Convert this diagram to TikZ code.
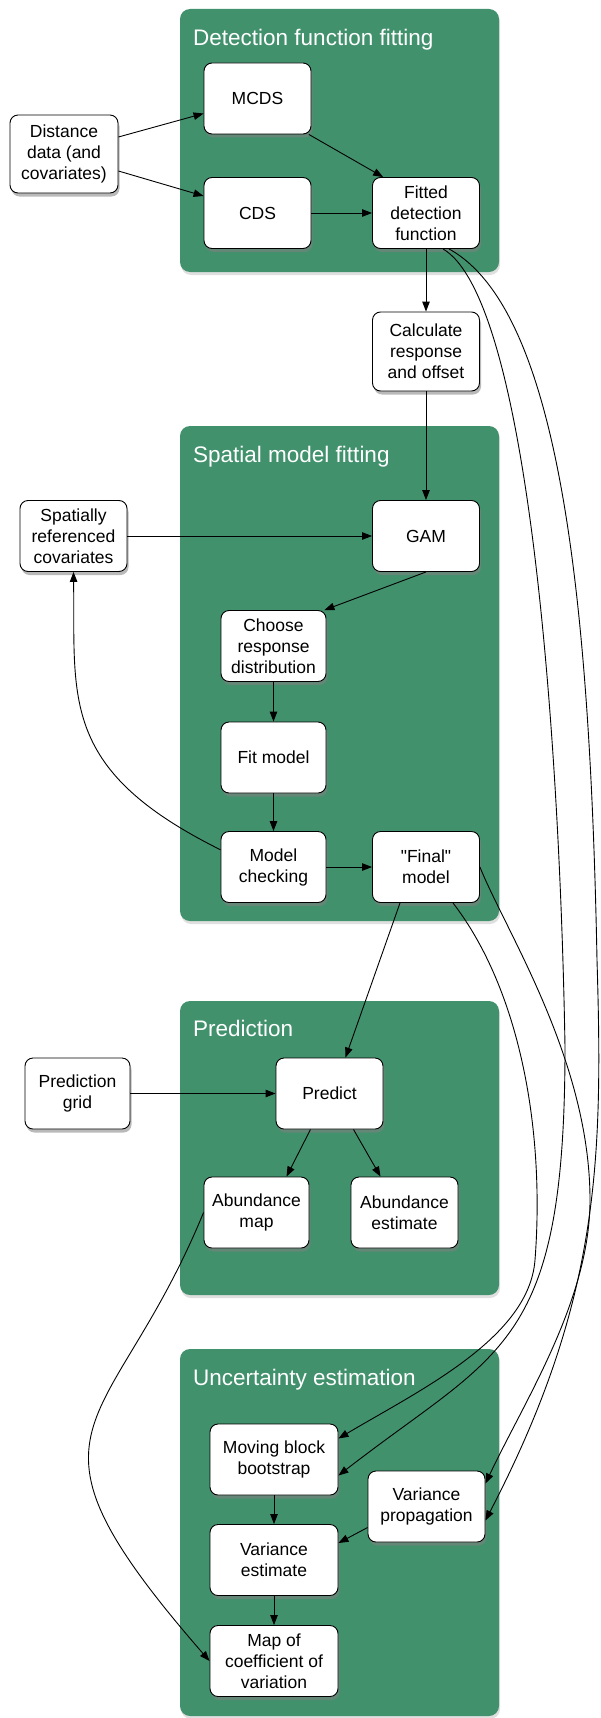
\documentclass[tikz,border=0pt]{standalone}
\usepackage{fontspec}
\setmainfont{Liberation Sans}
\usetikzlibrary{arrows.meta,shadows}
\definecolor{panelgreen}{HTML}{42916D}

\tikzset{
  panel/.style={fill=panelgreen, rounded corners=10pt,
    drop shadow={shadow xshift=1pt, shadow yshift=-3pt, opacity=0.25}},
  paneltitle/.style={anchor=base west, inner sep=0pt, text=white,
    font=\fontsize{22.5}{27}\selectfont},
  stepbox/.style={draw=black, line width=0.9pt, fill=white, rounded corners=8pt,
    align=center, minimum width=107pt, minimum height=71pt, inner sep=2pt,
    font=\fontsize{17.5}{21}\selectfont,
    drop shadow={shadow xshift=1.5pt, shadow yshift=-3.5pt, opacity=0.55}},
  flow/.style={line width=0.9pt, -{Triangle[length=10pt,width=7.5pt]}},
}

\begin{document}
\begin{tikzpicture}[x=1pt, y=1pt]
  \useasboundingbox (0,0) rectangle (601,-1718);

  \path[panel] (180,-9) rectangle (499,-272);
  \path[panel] (180,-426) rectangle (499,-921);
  \path[panel] (180,-1001) rectangle (499,-1295);
  \path[panel] (180,-1349) rectangle (499,-1716);

  \node[paneltitle] (title1) at (193,-46) {Detection function fitting};
  \node[paneltitle] (title2) at (193,-462) {Spatial model fitting};
  \node[paneltitle] (title3) at (193,-1036) {Prediction};
  \node[paneltitle] (title4) at (193,-1385) {Uncertainty estimation};

  \node[stepbox, minimum width=108pt, minimum height=78pt] (dist) at (64,-154) {Distance\\data (and\\covariates)};
  \node[stepbox] (mcds) at (257.5,-98.5) {MCDS};
  \node[stepbox] (cds) at (257.5,-213) {CDS};
  \node[stepbox] (fitted) at (426,-213) {Fitted\\detection\\function};
  \node[stepbox, minimum height=79pt] (calc) at (426,-351.5) {Calculate\\response\\and offset};

  \node[stepbox] (spat) at (73.5,-536) {Spatially\\referenced\\covariates};
  \node[stepbox] (gam) at (426,-536) {GAM};
  \node[stepbox, minimum width=105pt] (choose) at (273.5,-646) {Choose\\response\\distribution};
  \node[stepbox, minimum width=105pt] (fit) at (273.5,-757.5) {Fit model};
  \node[stepbox, minimum width=105pt] (check) at (273.5,-867) {Model\\checking};
  \node[stepbox] (final) at (426,-867) {\textquotedbl Final\textquotedbl\\model};

  \node[stepbox, minimum width=105pt] (grid) at (77.5,-1093.5) {Prediction\\grid};
  \node[stepbox] (predict) at (329.5,-1093.5) {Predict};
  \node[stepbox, minimum width=105pt] (amap) at (256.5,-1212.5) {Abundance\\map};
  \node[stepbox] (aest) at (404.5,-1212.5) {Abundance\\estimate};

  \node[stepbox, minimum width=128pt] (mbb) at (274,-1459.5) {Moving block\\bootstrap};
  \node[stepbox, minimum width=117pt] (varprop) at (426.5,-1506.5) {Variance\\propagation};
  \node[stepbox, minimum width=128pt] (varest) at (274,-1560) {Variance\\estimate};
  \node[stepbox, minimum width=128pt] (cvmap) at (274,-1661) {Map of\\coefficient of\\variation};

  \draw[flow] ([yshift=17pt]dist.east) -- ([yshift=-15pt]mcds.west);
  \draw[flow] ([yshift=-17pt]dist.east) -- ([yshift=17pt]cds.west);
  \draw[flow] (mcds.-35) -- (fitted.140);
  \draw[flow] (cds) -- (fitted);
  \draw[flow] (fitted) -- (calc);
  \draw[flow] (calc) -- (gam);
  \draw[flow] (spat) -- (gam);
  \draw[flow] (gam.south) -- ([xshift=-2pt]choose.north east);
  \draw[flow] (choose) -- (fit);
  \draw[flow] (fit) -- (check);
  \draw[flow] (check) -- (final);
  \draw[flow] (check.162) .. controls (60,-770) and (75,-700) .. (spat.south);
  \draw[flow] ([xshift=-26pt]final.south) -- ([xshift=16pt]predict.north);
  \draw[flow] (grid) -- (predict);
  \draw[flow] ([xshift=-19pt]predict.south) -- ([xshift=30pt]amap.north);
  \draw[flow] ([xshift=24pt]predict.south) -- ([xshift=-24pt]aest.north);
  \draw[flow] (mbb) -- (varest);
  \draw[flow] (varest) -- (cvmap);
  \draw[flow] ([yshift=-21pt]varprop.west) -- ([yshift=17pt]varest.east);
  \draw[flow] (amap.west) .. controls (110,-1440) and (0,-1420) .. (cvmap.west);

  \draw[flow] ([xshift=17pt]fitted.south) .. controls (530,-300) and (560,-750) .. (565,-1047)
    .. controls (565,-1350) and (500,-1350) .. ([yshift=-16pt]mbb.east);
  \draw[flow] ([xshift=23pt]fitted.south) .. controls (560,-310) and (590,-600) .. (597,-960)
    .. controls (603,-1160) and (600,-1300) .. ([yshift=-14pt]varprop.east);
  \draw[flow] ([xshift=27pt]final.south) .. controls (520,-990) and (545,-1130) .. (535,-1260)
    .. controls (529,-1338) and (420,-1390) .. ([yshift=21pt]mbb.east);
  \draw[flow] (final.east) .. controls (505,-930) and (590,-1060) .. (590,-1200)
    .. controls (590,-1300) and (525,-1400) .. ([yshift=23pt]varprop.east);
\end{tikzpicture}
\end{document}
